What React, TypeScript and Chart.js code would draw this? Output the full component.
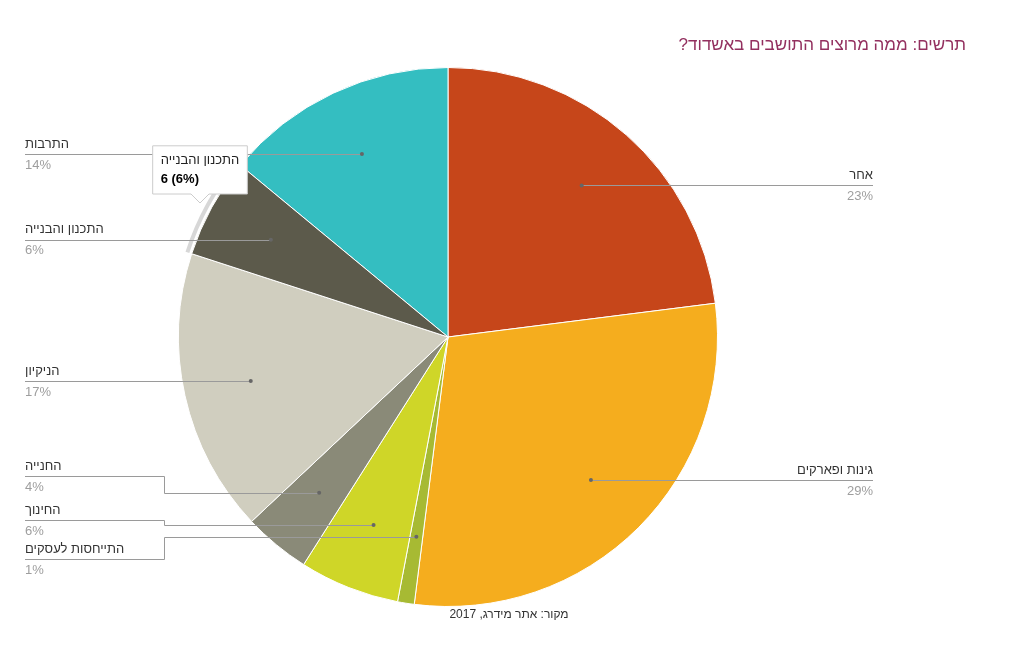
import React, { useEffect, useRef } from "react";
import { Chart, registerables, Tooltip } from "chart.js";

Chart.register(...registerables);

const categories = [
  "אחר",
  "גינות ופארקים",
  "התייחסות לעסקים",
  "החינוך",
  "החנייה",
  "הניקיון",
  "התכנון והבנייה",
  "התרבות",
];
const values = [23, 29, 1, 6, 4, 17, 6, 14];
const colors = ["#C6461A", "#F5AD1E", "#A7BA33", "#CFD628", "#8A8A78", "#D0CEBF", "#5C5A4B", "#34BEC1"];

const titleText = "תרשים: ממה מרוצים התושבים באשדוד?";
const sourceText = "מקור: אתר מידרג, 2017";
const hoveredIndex = 6;

// label layout: side and (optional) fixed label line y for elbowed leaders
const labelSide = ["right", "right", "left", "left", "left", "left", "left", "left"];
const labelLineY: (number | null)[] = [null, null, 559, 520, 476, null, null, null];

const FONT = "'Liberation Sans', Arial, sans-serif";
const rtl = (s: string) => "\u202B" + s + "\u202C";

(Tooltip as any).positioners.fixedPos = function () {
  return { x: 200, y: 204 };
};

const total = values.reduce((a, b) => a + b, 0);
const pct = (v: number) => Math.round((v / total) * 100);

const decorPlugin = {
  id: "decor",
  afterDatasetsDraw(chart: any) {
    const ctx = chart.ctx as CanvasRenderingContext2D;
    const meta = chart.getDatasetMeta(0);
    // hover halo
    const h = meta.data[hoveredIndex] as any;
    ctx.save();
    ctx.beginPath();
    ctx.arc(h.x, h.y, h.outerRadius + 4.5, h.startAngle, h.endAngle);
    ctx.strokeStyle = "rgba(205,205,205,0.8)";
    ctx.lineWidth = 4;
    ctx.stroke();
    ctx.restore();

    // leader lines + labels
    meta.data.forEach((arc: any, i: number) => {
      const mid = (arc.startAngle + arc.endAngle) / 2;
      const r = arc.outerRadius * 0.75;
      const dx = arc.x + Math.cos(mid) * r;
      const dy = arc.y + Math.sin(mid) * r;
      const side = labelSide[i];
      const ly = labelLineY[i] ?? dy;
      ctx.save();
      ctx.strokeStyle = "#9a9a9a";
      ctx.lineWidth = 1;
      ctx.beginPath();
      let textX: number;
      if (side === "right") {
        ctx.moveTo(dx, Math.round(dy) + 0.5);
        ctx.lineTo(873, Math.round(dy) + 0.5);
        textX = 873;
      } else {
        const yy = Math.round(ly) + 0.5;
        const dyy = Math.round(dy) + 0.5;
        if (labelLineY[i] != null) {
          ctx.moveTo(25, yy);
          ctx.lineTo(164.5, yy);
          ctx.lineTo(164.5, dyy);
          ctx.lineTo(dx, dyy);
        } else {
          ctx.moveTo(25, dyy);
          ctx.lineTo(dx, dyy);
        }
        textX = 25;
      }
      ctx.stroke();
      ctx.fillStyle = "#666";
      ctx.beginPath();
      ctx.arc(dx, dy, 2, 0, Math.PI * 2);
      ctx.fill();

      ctx.textAlign = side === "right" ? "right" : "left";
      ctx.textBaseline = "middle";
      ctx.font = `13px ${FONT}`;
      ctx.fillStyle = "#333";
      ctx.fillText(rtl(categories[i]), textX, ly - 10);
      ctx.fillStyle = "#9e9e9e";
      ctx.fillText(pct(values[i]) + "%", textX, ly + 11);
      ctx.restore();
    });

    // title and source
    ctx.save();
    ctx.textBaseline = "middle";
    ctx.textAlign = "right";
    ctx.font = `17px ${FONT}`;
    ctx.fillStyle = "#93305F";
    ctx.fillText(rtl(titleText), 966, 45);
    ctx.textAlign = "center";
    ctx.font = `12px ${FONT}`;
    ctx.fillStyle = "#333";
    ctx.fillText(rtl(sourceText), 509, 615);
    ctx.restore();
  },
};

export default function App() {
  const ref = useRef<HTMLCanvasElement>(null);
  useEffect(() => {
    if (!ref.current) return;
    const chart = new Chart(ref.current, {
      type: "pie",
      data: {
        labels: categories,
        datasets: [
          {
            data: values,
            backgroundColor: colors,
            hoverBackgroundColor: colors,
            borderColor: "#ffffff",
            hoverBorderColor: "#ffffff",
            borderWidth: 1,
            hoverBorderWidth: 1,
            hoverOffset: 0,
          },
        ],
      },
      options: {
        responsive: false,
        animation: false,
        events: [],
        layout: { padding: { left: 178, right: 296, top: 67, bottom: 46 } },
        plugins: {
          legend: { display: false },
          title: { display: false },
          tooltip: {
            enabled: true,
            position: "fixedPos" as any,
            xAlign: "center",
            yAlign: "bottom",
            backgroundColor: "#ffffff",
            borderColor: "#cccccc",
            borderWidth: 1,
            cornerRadius: 0,
            caretSize: 9,
            caretPadding: 1,
            displayColors: false,
            padding: { top: 7, bottom: 7, left: 8, right: 8 },
            titleColor: "#222",
            bodyColor: "#000",
            titleFont: { family: FONT, size: 13, weight: "normal" },
            bodyFont: { family: FONT, size: 13, weight: "bold" },
            titleMarginBottom: 3,
            titleAlign: "right",
            bodyAlign: "left",
            callbacks: {
              title: (items: any[]) => categories[items[0].dataIndex],
              label: (item: any) => `${values[item.dataIndex]} (${pct(values[item.dataIndex])}%)`,
            },
          },
        },
      },
      plugins: [decorPlugin],
    });
    const active = [{ datasetIndex: 0, index: hoveredIndex }];
    chart.setActiveElements(active);
    chart.tooltip!.setActiveElements(active, { x: 200, y: 204 });
    chart.update();
    return () => chart.destroy();
  }, []);
  return (
    <div style={{ position: "absolute", left: 0, top: 0, width: 1014, height: 653, background: "#fff" }}>
      <canvas ref={ref} width={1014} height={653} style={{ width: 1014, height: 653 }} />
    </div>
  );
}
